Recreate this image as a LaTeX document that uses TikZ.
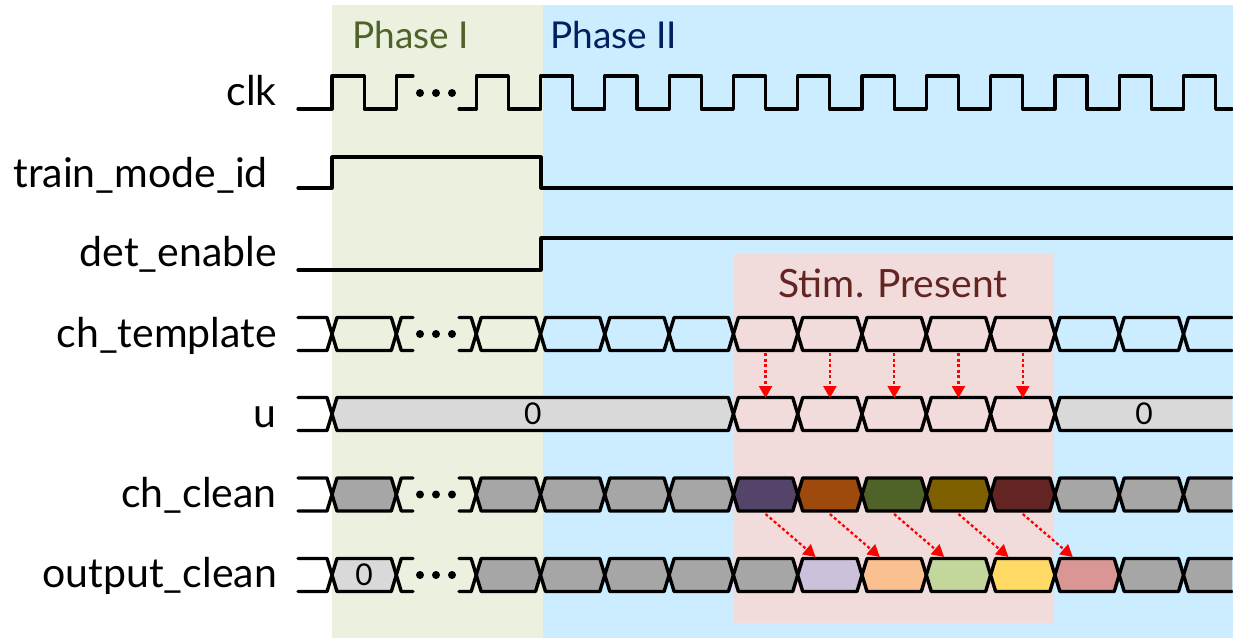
\documentclass[tikz,border=0pt]{standalone}
\usepackage{fontspec}
\setmainfont{Lato}
\usetikzlibrary{arrows.meta}
\definecolor{bggreen}{HTML}{EBF1DE}
\definecolor{bgblue}{HTML}{CCECFF}
\definecolor{bgpink}{HTML}{F2DCDB}
\definecolor{cgray}{HTML}{A6A6A6}
\definecolor{clgray}{HTML}{D9D9D9}
\definecolor{cpur}{HTML}{55446A}
\definecolor{cbrn}{HTML}{9E4A0C}
\definecolor{cgrn}{HTML}{4F6228}
\definecolor{coliv}{HTML}{7F6000}
\definecolor{cmar}{HTML}{632523}
\definecolor{lpur}{HTML}{CCC1DA}
\definecolor{lora}{HTML}{FAC090}
\definecolor{lgrn}{HTML}{C3D69B}
\definecolor{lyel}{HTML}{FFD966}
\definecolor{lred}{HTML}{D99694}
\definecolor{phaseone}{HTML}{4F6228}
\definecolor{phasetwo}{HTML}{002060}
\definecolor{stimcol}{HTML}{632523}
\def\bh{16.5}
\def\bd{5}
\newcommand\cellF[4]{\filldraw[bus,#4] ({#1},{#3}) -- ({#1+\bd},{#3-\bh}) -- ({#2-\bd},{#3-\bh}) -- ({#2},{#3}) -- ({#2-\bd},{#3+\bh}) -- ({#1+\bd},{#3+\bh}) -- cycle;}
\newcommand\cellL[3]{\draw[bus] ({#1},{#3-\bh}) -- ({#2-\bd},{#3-\bh}) -- ({#2},{#3}) -- ({#2-\bd},{#3+\bh}) -- ({#1},{#3+\bh});}
\newcommand\cellR[4]{\fill[#4] ({#1},{#3}) -- ({#1+\bd},{#3-\bh}) -- ({#2},{#3-\bh}) -- ({#2},{#3+\bh}) -- ({#1+\bd},{#3+\bh}) -- cycle;
  \draw[bus] ({#2},{#3-\bh}) -- ({#1+\bd},{#3-\bh}) -- ({#1},{#3}) -- ({#1+\bd},{#3+\bh}) -- ({#2},{#3+\bh});}
\newcommand\threedots[1]{\foreach \dx in {420,436,452} \fill ({\dx},{#1}) circle (4);}
\begin{document}
\begin{tikzpicture}[x=1pt,y=-1pt,
  sig/.style={line width=3.2pt,line cap=round,line join=round},
  bus/.style={line width=3.4pt,line cap=round,line join=round},
  lbl/.style={anchor=base east,inner sep=0pt,font=\fontsize{41}{44}\selectfont},
  phase/.style={anchor=base west,inner sep=0pt,font=\fontsize{37}{40}\selectfont},
  zero/.style={inner sep=0pt,font=\fontsize{30}{32}\selectfont},
  rarrow/.style={red,line width=2.3pt,dash pattern=on 3pt off 2.5pt,-{Triangle[length=12pt,width=13pt]}}]
\useasboundingbox (0,0) rectangle (1233,638);
% backgrounds
\fill[bggreen] (332,5) rectangle (543,638);
\fill[bgblue] (543,5) rectangle (1233,638);
\fill[bgpink] (733,254) rectangle (1054,623);
% phase labels
\node[phase,text=phaseone] (ph1) at (352,48) {Phase I};
\node[phase,text=phasetwo] (ph2) at (550,48) {Phase II};
\node[anchor=base,inner sep=0pt,font=\fontsize{39}{42}\selectfont,text=stimcol] (stim) at (893,297) {Stim. Present};
% signal labels
\node[lbl] (lclk) at (277,105) {clk};
\node[lbl] (ltrain) at (268,187) {train\_mode\_id};
\node[lbl] (ldet) at (277,266) {det\_enable};
\node[lbl] (ltmpl) at (277,347) {ch\_template};
\node[lbl] (lu) at (277,427) {u};
\node[lbl] (lclean) at (277,507) {ch\_clean};
\node[lbl] (lout) at (277,587) {output\_clean};
% clk
\draw[sig] (298,109) -- (332,109) -- (332,76) -- (364.15,76) -- (364.15,109) -- (396.3,109) -- (396.3,76) -- (413,76);
\draw[sig] (459,109) foreach \k in {-1,...,10} { -- ({540.5+64.3*\k},109) -- ({540.5+64.3*\k},76) -- ({572.65+64.3*\k},76) -- ({572.65+64.3*\k},109) } -- (1232,109);
\threedots{93}
% train_mode_id
\draw[sig] (298,188) -- (332,188) -- (332,157) -- (541,157) -- (541,188) -- (1232,188);
% det_enable
\draw[sig] (298,270) -- (541,270) -- (541,238) -- (1232,238);
% ch_template
\cellL{298}{332}{334}
\cellF{332}{396.3}{334}{fill=none}
\cellR{396.3}{413}{334}{fill=none}
\threedots{334}
\cellL{459}{476.2}{334}
\foreach \k in {-1,...,9} {\cellF{540.5+64.3*\k}{604.8+64.3*\k}{334}{fill=none}}
\cellR{1183.5}{1232}{334}{fill=none}
% u
\cellL{298}{332}{414}
\cellF{332}{733.4}{414}{fill=clgray}
\node[zero] (u0a) at (532.7,414) {0};
\foreach \k in {3,...,7} {\cellF{540.5+64.3*\k}{604.8+64.3*\k}{414}{fill=none}}
\cellR{1054.9}{1232}{414}{fill=clgray}
\node[zero] (u0b) at (1144,414) {0};
% ch_clean
\cellL{298}{332}{494.5}
\cellF{332}{396.3}{494.5}{fill=cgray}
\cellR{396.3}{413}{494.5}{fill=none}
\threedots{494.5}
\cellL{459}{476.2}{494.5}
\foreach \k/\f in {-1/cgray,0/cgray,1/cgray,2/cgray,3/cpur,4/cbrn,5/cgrn,6/coliv,7/cmar,8/cgray,9/cgray} {\cellF{540.5+64.3*\k}{604.8+64.3*\k}{494.5}{fill=\f}}
\cellR{1183.5}{1232}{494.5}{fill=cgray}
% output_clean
\cellL{298}{332}{575}
\cellF{332}{396.3}{575}{fill=clgray}
\node[zero] (o0) at (364.15,575) {0};
\cellR{396.3}{413}{575}{fill=none}
\threedots{575}
\cellL{459}{476.2}{575}
\foreach \k/\f in {-1/cgray,0/cgray,1/cgray,2/cgray,3/cgray,4/lpur,5/lora,6/lgrn,7/lyel,8/lred,9/cgray} {\cellF{540.5+64.3*\k}{604.8+64.3*\k}{575}{fill=\f}}
\cellR{1183.5}{1232}{575}{fill=cgray}
% arrows
\foreach \k in {3,...,7} {
  \coordinate (ts\k) at ({572.65+64.3*\k},353);
  \coordinate (te\k) at ({572.65+64.3*\k},398);
  \draw[rarrow] (ts\k) -- (te\k);
  \coordinate (cs\k) at ({572.65+64.3*\k},514);
  \coordinate (ce\k) at ({622.65+64.3*\k},557);
  \draw[rarrow] (cs\k) -- (ce\k);
}
\end{tikzpicture}
\end{document}
